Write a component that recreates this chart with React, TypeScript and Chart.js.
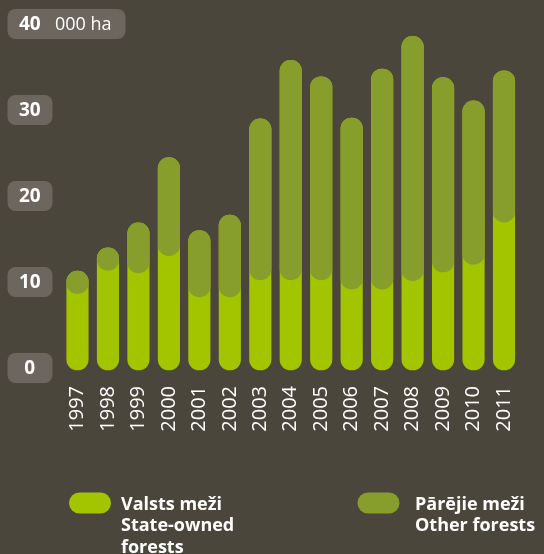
import React, { useEffect, useRef } from "react";
import { Chart, registerables } from "chart.js";

Chart.register(...registerables);

const years = ["1997", "1998", "1999", "2000", "2001", "2002", "2003", "2004", "2005", "2006", "2007", "2008", "2009", "2010", "2011"];
const stateOwned = [8.9, 11.6, 11.3, 13.3, 8.5, 8.5, 10.5, 10.5, 10.5, 9.4, 9.4, 10.4, 11.4, 12.3, 17.2];
const otherForests = [2.6, 2.6, 5.8, 11.4, 7.7, 9.5, 18.7, 25.5, 23.6, 19.9, 25.6, 28.4, 22.6, 19.0, 17.6];
const yTicks = [0, 10, 20, 30, 40];
const unitLabel = "000 ha";
const legendState = ["Valsts meži", "State-owned", "forests"];
const legendOther = ["Pārējie meži", "Other forests"];

const BG = "#4b463c";
const PILL = "#6c665e";
const GREEN = "#a2c500";
const OLIVE = "#889e2c";
const FONT = "'Open Sans', 'Noto Sans', sans-serif";

function roundRect(ctx: CanvasRenderingContext2D, x: number, y: number, w: number, h: number, r: number) {
  ctx.beginPath();
  ctx.moveTo(x + r, y);
  ctx.lineTo(x + w - r, y);
  ctx.arcTo(x + w, y, x + w, y + r, r);
  ctx.lineTo(x + w, y + h - r);
  ctx.arcTo(x + w, y + h, x + w - r, y + h, r);
  ctx.lineTo(x + r, y + h);
  ctx.arcTo(x, y + h, x, y + h - r, r);
  ctx.lineTo(x, y + r);
  ctx.arcTo(x, y, x + r, y, r);
  ctx.closePath();
}

const decor = {
  id: "decor",
  afterDraw(chart: any) {
    const ctx: CanvasRenderingContext2D = chart.ctx;
    const ys = chart.scales.y;
    ctx.save();
    // y tick pills
    yTicks.forEach((v, i) => {
      const cy = ys.getPixelForValue(v) - 2;
      const last = i === yTicks.length - 1;
      const w = last ? 118 : 45;
      ctx.fillStyle = PILL;
      roundRect(ctx, 7.5, cy - 15, w, 30, 8);
      ctx.fill();
      ctx.fillStyle = "#ffffff";
      ctx.font = `bold 19px ${FONT}`;
      ctx.textAlign = "center";
      ctx.textBaseline = "middle";
      ctx.fillText(String(v), 29.8, cy + 1);
      if (last) {
        ctx.font = `18px ${FONT}`;
        ctx.textAlign = "left";
        ctx.fillText(unitLabel, 55, cy + 1);
      }
    });
    // legend
    const drawItem = (x: number, tx: number, color: string, lines: string[]) => {
      ctx.fillStyle = color;
      roundRect(ctx, x, 492.5, 42, 21, 10.5);
      ctx.fill();
      ctx.fillStyle = "#ffffff";
      ctx.font = `bold 18px ${FONT}`;
      ctx.textAlign = "left";
      ctx.textBaseline = "alphabetic";
      lines.forEach((t, k) => ctx.fillText(t, tx, 509.5 + k * 21.5));
    };
    drawItem(69, 121, GREEN, legendState);
    drawItem(357.5, 415, OLIVE, legendOther);
    ctx.restore();
  },
};

export default function App() {
  const ref = useRef<HTMLCanvasElement>(null);
  useEffect(() => {
    if (!ref.current) return;
    const totals = stateOwned.map((s, i) => s + otherForests[i]);
    const common = {
      barThickness: 21.5,
      borderRadius: 11,
      borderSkipped: false,
      grouped: false,
      clip: false,
    };
    const chart = new Chart(ref.current, {
      type: "bar",
      data: {
        labels: years,
        datasets: [
          {
            label: legendState.join(" "),
            data: totals.map((t) => [0, t]),
            backgroundColor: GREEN,
            order: 2,
            ...common,
          } as any,
          {
            label: legendOther.join(" "),
            data: stateOwned.map((s, i) => [s, totals[i]]),
            backgroundColor: OLIVE,
            order: 1,
            ...common,
          } as any,
        ],
      },
      options: {
        responsive: false,
        animation: false,
        layout: { padding: { left: 77.5, right: 12.5, top: 26, bottom: 104 } },
        plugins: { legend: { display: false }, tooltip: { enabled: false } },
        scales: {
          x: {
            offset: false,
            grid: { display: false, drawTicks: false },
            border: { display: false },
            ticks: {
              color: "#ffffff",
              font: { family: FONT, size: 20, weight: "400" },
              minRotation: 90,
              maxRotation: 90,
              padding: 16,
              autoSkip: false,
            },
            afterFit: (s: any) => {
              s.height = 80;
            },
          },
          y: { display: false, min: 0, max: 40 },
        },
      } as any,
      plugins: [decor],
    });
    return () => chart.destroy();
  }, []);
  return (
    <div style={{ position: "fixed", left: 0, top: 0, width: 544, height: 554, background: BG }}>
      <canvas ref={ref} width={544} height={554} style={{ display: "block" }} />
    </div>
  );
}
